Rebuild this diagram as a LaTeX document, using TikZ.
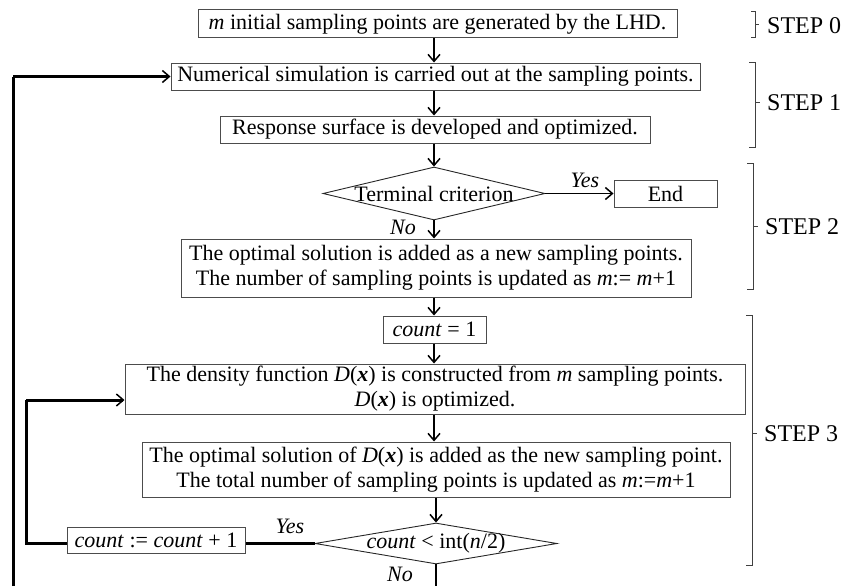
\documentclass[tikz,border=0pt]{standalone}
\usepackage{fontspec}
\setmainfont{Liberation Serif}
\usetikzlibrary{arrows.meta,shapes.geometric,calc}

\begin{document}
\begin{tikzpicture}[x=1pt,y=-1pt,
  font=\fontsize{22}{25}\selectfont,
  box/.style={draw=black!70,line width=1pt,inner sep=0pt,align=center},
  cond/.style={diamond,draw=black!85,line width=0.9pt,inner sep=0pt},
  tip/.style={-{Straight Barb[length=7pt,width=12pt,line width=1.5pt]}},
  flow/.style={line width=1.5pt,tip},
  plain/.style={line width=1.5pt},
  loopline/.style={line width=3pt},
  bracket/.style={draw=black!75,line width=1pt},
  lbl/.style={font=\fontsize{22}{25}\selectfont\itshape,inner sep=0pt},
  steplbl/.style={anchor=west,inner sep=0pt,font=\fontsize{24}{28}\selectfont}
]
\useasboundingbox (0,0) rectangle (858,586);

% ---- main flow ----
\node[box,minimum width=479,minimum height=28] (s0) at (437.5,24)
  {\textit{m} initial sampling points are generated by the LHD.};
\node[box,minimum width=529,minimum height=27] (sim) at (435.5,76.5)
  {Numerical simulation is carried out at the sampling points.};
\node[box,minimum width=430,minimum height=27] (rs) at (435,129.5)
  {Response surface is developed and optimized.};
\node[cond,minimum width=222,minimum height=53] (term) at (434,193.5)
  {\makebox[0pt]{Terminal criterion}};
\node[box,minimum width=103,minimum height=27] (end) at (665.5,193.5) {End};
\node[box,minimum width=510,minimum height=58] (add) at (436,268)
  {The optimal solution is added as a new sampling points.\\
   The number of sampling points is updated as \textit{m}:= \textit{m}+1};
\node[box,minimum width=103,minimum height=27] (cinit) at (434.5,329.5)
  {\textit{count} = 1};
\node[box,minimum width=620,minimum height=50] (dens) at (435,389)
  {The density function \textit{D}(\textbf{\textit{x}}) is constructed from \textit{m} sampling points.\\
   \textit{D}(\textbf{\textit{x}}) is optimized.};
\node[box,minimum width=588,minimum height=55] (addd) at (436,469.5)
  {The optimal solution of \textit{D}(\textbf{\textit{x}}) is added as the new sampling point.\\
   The total number of sampling points is updated as \textit{m}:=\textit{m}+1};
\node[cond,minimum width=242,minimum height=41] (cmp) at (436,543.5)
  {\makebox[0pt]{\textit{count} < int(\textit{n}/2)}};
\node[box,minimum width=178,minimum height=26] (cinc) at (156,540)
  {\textit{count} := \textit{count} + 1};

% ---- connectors ----
\coordinate (ax) at (434,0);
\draw[flow] (s0.south -| ax) -- (sim.north -| ax);
\draw[flow] (sim.south -| ax) -- (rs.north -| ax);
\draw[flow] (rs.south -| ax) -- (term.north);
\draw[flow] (term.east) -- (end.west);
\node[lbl] (yes1) at (585,180) {Yes};
\draw[flow] (term.south) -- (add.north -| term.south);
\node[lbl] (no1) at (403,227) {No};
\draw[flow] (add.south -| ax) -- (cinit.north -| ax);
\draw[flow] (cinit.south -| ax) -- (dens.north -| ax);
\draw[flow] (dens.south -| ax) -- (addd.north -| ax);
\draw[flow] (addd.south -| cmp.north) -- (cmp.north);

% inner loop (count < int(n/2))
\coordinate (inA) at (26,543.5);
\coordinate (inB) at (26,400);
\draw[loopline] (cmp.west) -- (cmp.west -| cinc.east);
\draw[loopline] (cmp.west -| cinc.west) -- (inA) -- (inB);
\draw[loopline,tip] (inB) -- (inB -| dens.west);
\node[lbl] (yes2) at (290,526) {Yes};

% exit downwards
\coordinate (out) at (436,586);
\draw[plain] (cmp.south) -- (out);
\node[lbl] (no2) at (400,574) {No};

% outer loop back to the simulation
\coordinate (outA) at (13,586);
\coordinate (outB) at (13,76.5);
\draw[loopline] (outA) -- (outB);
\draw[loopline,tip] (outB) -- (sim.west);

% ---- step brackets ----
\draw[bracket] (751,12) -- (755,12) -- (755,38) -- (751,38);
\draw[bracket] (755,25) -- (759,25);
\node[steplbl] (st0) at (767,26) {STEP 0};

\draw[bracket] (749,62) -- (755,62) -- (755,147) -- (749,147);
\draw[bracket] (755,102) -- (760,102);
\node[steplbl] (st1) at (767,103) {STEP 1};

\draw[bracket] (747,163) -- (753,163) -- (753,289) -- (747,289);
\draw[bracket] (753,226) -- (758,226);
\node[steplbl] (st2) at (765,227) {STEP 2};

\draw[bracket] (746,315) -- (752,315) -- (752,565) -- (746,565);
\draw[bracket] (752,433) -- (757,433);
\node[steplbl] (st3) at (764,434) {STEP 3};
\end{tikzpicture}
\end{document}
